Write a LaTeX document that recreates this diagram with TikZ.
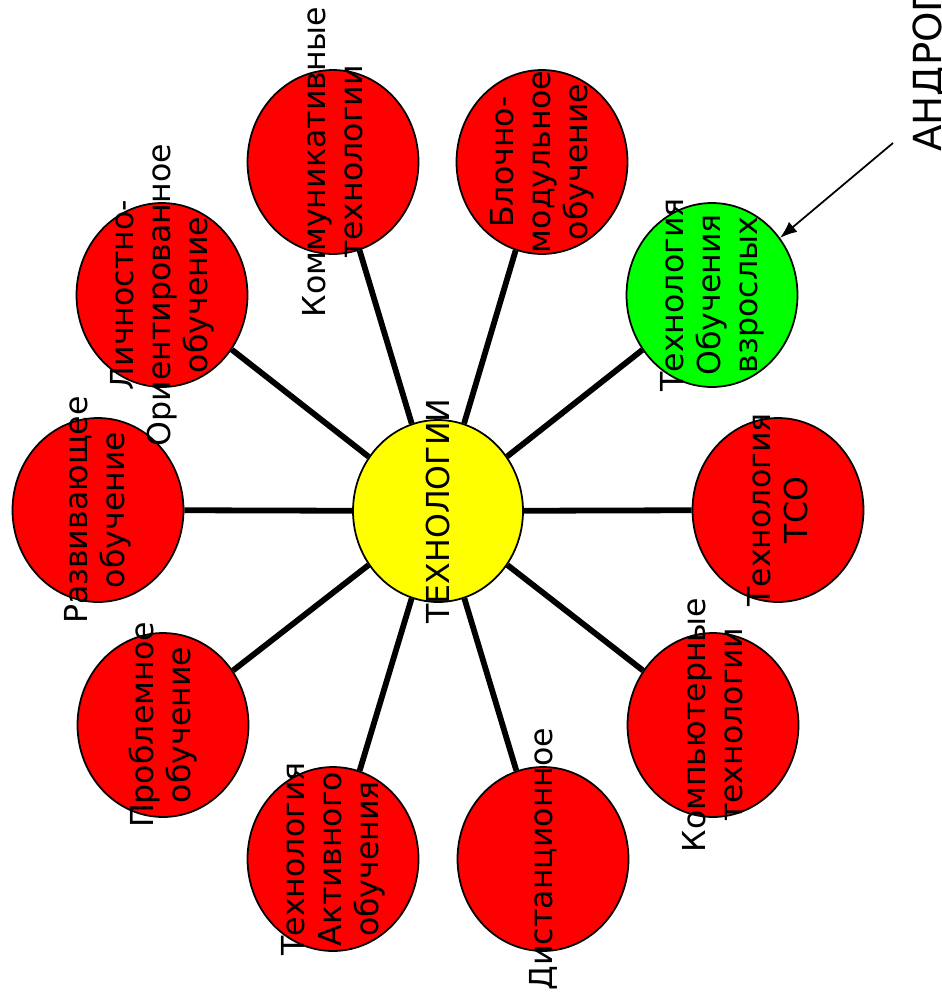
\documentclass[tikz,border=0pt]{standalone}
\usepackage{fontspec}
\setmainfont{DejaVu Sans}
\usetikzlibrary{shapes.geometric,arrows.meta}
\definecolor{sun}{RGB}{255,255,0}
\definecolor{leafred}{RGB}{255,0,0}
\definecolor{leafgreen}{RGB}{0,255,0}

\begin{document}
\begin{tikzpicture}[x=0.02cm,y=-0.02cm,
        bubble/.style={ellipse,draw,line width=1pt,fill=leafred,minimum width=3.42cm,minimum height=3.68cm,inner sep=0pt},
        lbl/.style={rotate=90,align=center,font=\fontsize{18}{21}\selectfont},
        spoke/.style={line width=3.3pt}]
        \useasboundingbox (0,0) rectangle (942,1001);
        \node[bubble,fill=sun,minimum width=3.4cm,minimum height=3.64cm] (tech) at (438,511) {};
        \node[bubble] (komm) at (333,162) {};
        \node[bubble] (blok) at (542,162) {};
        \node[bubble,fill=leafgreen] (adult) at (712,295) {};
        \node[bubble] (tso) at (778,510) {};
        \node[bubble] (comp) at (713,725) {};
        \node[bubble] (dist) at (543,859) {};
        \node[bubble] (activ) at (333,859) {};
        \node[bubble] (probl) at (163,725) {};
        \node[bubble] (razv) at (98,510) {};
        \node[bubble] (lich) at (162,295) {};
        \foreach \n in {komm,blok,adult,tso,comp,dist,activ,probl,razv,lich}
                \draw[spoke] (tech) -- (\n);
        \node[lbl] at (tech) {ТЕХНОЛОГИИ};
        \node[lbl] at (komm) {Коммуникативные\\технологии};
        \node[lbl] at (blok) {Блочно-\\модульное\\обучение};
        \node[lbl] at (adult) {Технология\\Обучения\\взрослых};
        \node[lbl] at (tso) {Технология\\ТСО};
        \node[lbl] at (comp) {Компьютерные\\технологии};
        \node[lbl] at (dist) {Дистанционное};
        \node[lbl] at (activ) {Технология\\Активного\\обучения};
        \node[lbl] at (probl) {Проблемное\\обучение};
        \node[lbl] at (razv) {Развивающее\\обучение};
        \node[lbl] at (lich) {Личностно-\\Ориентированное\\обучение};
        % arrow to the green one
        \node[rotate=90,anchor=base west,inner sep=0pt,font=\fontsize{22}{26}\selectfont] (andr) at (941,152) {АНДРОГОГИКА};
        \coordinate (tail) at (893,143);
        \draw[line width=1pt,-{Latex[length=0.34cm,width=0.26cm]}] (tail) -- (adult);
\end{tikzpicture}
\end{document}
